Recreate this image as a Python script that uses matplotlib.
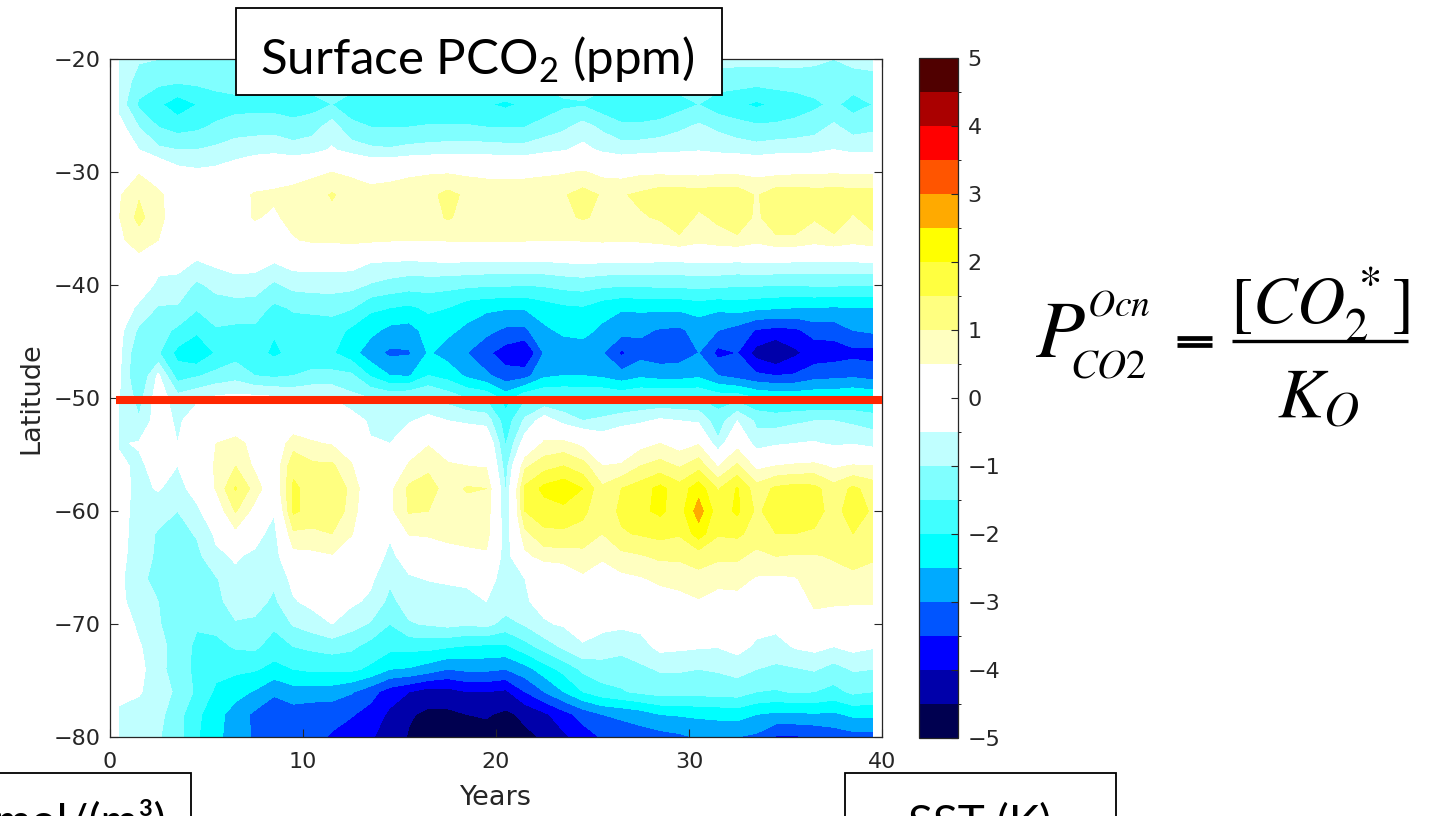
import numpy as np
import matplotlib
matplotlib.use("Agg")
import matplotlib.pyplot as plt
from matplotlib.colors import ListedColormap, BoundaryNorm
from matplotlib.patches import Rectangle
from matplotlib.lines import Line2D

# ---------------- data ----------------
years = np.arange(0.5, 40.0, 1.0)          # grid columns (year centres)
latitudes = np.arange(-80, -19, 2)         # grid rows, south -> north

# surface pCO2 anomaly (ppm) at each latitude row, years 0.5 ... 39.5
lat_m20 = [-0.6,-0.95,-1.0,-1.05,-1.05,-1.0,-1.0,-0.95,-0.95,-0.95, -0.95,-0.9,-0.95,-1.0,-1.05,-1.05,-1.05,-1.05,-1.05,-1.0,
           -1.0,-1.0,-0.95,-0.9,-0.9,-0.95,-0.95,-0.95,-0.95,-0.9, -0.85,-0.85,-0.85,-0.85,-0.85,-0.85,-0.9,-1.0,-0.85,-0.8]
lat_m22 = [-0.7,-1.2,-1.4,-1.45,-1.4,-1.3,-1.25,-1.25,-1.25,-1.25, -1.25,-1.2,-1.3,-1.35,-1.4,-1.4,-1.4,-1.4,-1.4,-1.4,
           -1.45,-1.4,-1.35,-1.25,-1.25,-1.3,-1.35,-1.35,-1.35,-1.25, -1.2,-1.25,-1.3,-1.35,-1.3,-1.25,-1.25,-1.3,-1.25,-1.2]
lat_m24 = [-0.7,-1.6,-1.9,-2.3,-2.0,-1.8,-1.7,-1.7,-1.7,-1.8, -1.7,-1.5,-1.7,-1.8,-1.9,-1.9,-1.9,-1.9,-1.9,-1.95,
           -2.1,-1.9,-1.8,-1.6,-1.55,-1.8,-1.9,-1.9,-1.9,-1.7, -1.5,-1.8,-1.9,-2.1,-1.9,-1.8,-1.6,-1.4,-1.7,-1.5]
lat_m26 = [-0.3,-1.0,-1.5,-1.7,-1.6,-1.4,-1.25,-1.2,-1.2,-1.3, -1.2,-0.75,-1.4,-1.5,-1.5,-1.5,-1.45,-1.45,-1.45,-1.5,
           -1.5,-1.5,-1.3,-1.1,-0.8,-1.1,-1.4,-1.4,-1.3,-1.1, -0.9,-1.1,-1.3,-1.4,-1.4,-1.3,-1.2,-0.9,-1.2,-1.1]
lat_m28 = [0.0,-0.5,-0.9,-1.0,-1.0,-0.9,-0.75,-0.7,-0.65,-0.8, -0.7,-0.45,-0.7,-0.9,-0.95,-0.85,-0.8,-0.75,-0.75,-0.75,
           -0.8,-0.8,-0.65,-0.55,-0.35,-0.6,-0.75,-0.7,-0.65,-0.6, -0.55,-0.65,-0.7,-0.8,-0.7,-0.7,-0.65,-0.5,-0.65,-0.65]
lat_m30 = [0.0,0.45,0.2,-0.3,-0.4,-0.35,-0.2,0.1,0.2,0.3, 0.4,0.5,0.4,0.25,0.3,0.4,0.45,0.45,0.4,0.35,
           0.35,0.35,0.4,0.45,0.55,0.35,0.3,0.4,0.4,0.35, 0.35,0.4,0.4,0.35,0.35,0.4,0.4,0.45,0.4,0.4]
lat_m32 = [0.45,0.95,0.6,0.2,0.1,0.1,0.3,0.55,0.6,0.65, 0.75,1.05,0.8,0.7,0.75,0.8,0.85,1.15,0.9,0.85,
           0.85,0.85,0.9,0.95,1.2,0.95,0.95,1.1,1.3,1.3, 1.25,1.3,1.3,0.95,1.3,1.3,1.25,1.25,1.25,1.25]
lat_m34 = [0.5,1.15,0.65,0.2,0.0,0.0,0.2,0.55,0.4,0.7, 0.8,0.85,0.85,0.8,0.8,0.8,0.8,1.05,0.85,0.8,
           0.8,0.85,0.85,0.9,1.05,0.9,0.9,0.95,1.05,1.3, 0.9,1.1,1.3,0.9,1.3,1.3,1.05,1.25,0.95,1.2]
lat_m36 = [0.4,0.75,0.5,0.1,-0.1,-0.1,0.0,0.2,0.35,0.45, 0.6,0.6,0.65,0.6,0.55,0.5,0.5,0.55,0.6,0.6,
           0.6,0.55,0.5,0.5,0.55,0.6,0.55,0.6,0.7,0.9, 0.65,0.8,0.9,0.65,0.9,0.9,0.7,0.9,0.7,0.85]
lat_m38 = [-0.1,0.3,-0.35,-0.3,-0.55,-0.4,-0.3,-0.3,-0.5,-0.3, -0.3,-0.3,-0.3,-0.5,-0.55,-0.6,-0.55,-0.5,-0.55,-0.55,
           -0.55,-0.55,-0.55,-0.5,-0.45,-0.5,-0.5,-0.5,-0.55,-0.55, -0.5,-0.5,-0.55,-0.5,-0.5,-0.55,-0.55,-0.6,-0.55,-0.5]
lat_m40 = [-0.1,-0.2,-0.6,-0.7,-1.1,-0.85,-0.7,-0.75,-1.1,-0.85, -0.8,-0.8,-0.85,-1.05,-1.2,-1.3,-1.3,-1.35,-1.4,-1.45,
           -1.45,-1.5,-1.45,-1.35,-1.3,-1.4,-1.45,-1.45,-1.4,-1.4, -1.35,-1.4,-1.45,-1.45,-1.5,-1.5,-1.45,-1.45,-1.5,-1.5]
lat_m42 = [-0.2,-0.6,-1.05,-1.05,-1.45,-1.25,-1.25,-1.25,-1.6,-1.45, -1.4,-1.35,-1.45,-1.9,-2.0,-2.1,-1.9,-2.0,-2.3,-2.4,
           -2.45,-2.45,-2.25,-2.1,-2.05,-2.3,-2.45,-2.4,-2.4,-2.4, -2.3,-2.4,-2.3,-2.4,-2.45,-2.5,-2.5,-2.55,-2.5,-2.5]
lat_m44 = [-0.35,-1.1,-1.3,-1.6,-1.9,-1.55,-1.6,-1.6,-1.95,-1.7, -1.75,-1.75,-2.1,-2.35,-2.65,-2.7,-2.3,-2.4,-2.6,-2.85,
           -3.1,-3.1,-2.6,-2.4,-2.35,-2.6,-2.8,-2.9,-3.05,-3.1, -2.8,-3.0,-3.2,-3.55,-3.65,-3.6,-3.3,-3.3,-3.0,-2.9]
lat_m46 = [-0.4,-1.45,-1.45,-2.15,-2.45,-1.95,-1.7,-1.8,-2.1,-1.85, -1.9,-1.95,-2.3,-2.8,-3.1,-3.05,-2.45,-2.7,-3.0,-3.4,
           -3.75,-4.05,-2.95,-2.8,-2.75,-2.95,-3.6,-3.2,-3.3,-3.25, -3.0,-3.65,-3.5,-4.2,-4.55,-4.1,-3.8,-3.75,-3.65,-3.7]
lat_m48 = [-0.45,-1.55,-0.4,-1.75,-1.55,-1.35,-1.2,-1.5,-1.6,-1.5, -1.35,-1.35,-1.4,-2.05,-2.5,-2.55,-2.0,-2.2,-2.6,-2.9,
           -3.3,-3.2,-2.6,-2.5,-2.5,-2.6,-2.8,-2.6,-2.7,-2.7, -2.6,-3.0,-3.2,-3.4,-3.5,-3.45,-3.2,-3.15,-3.1,-3.2]
lat_m50 = [-0.5,-1.2,-0.2,-0.8,-0.6,-0.4,-0.35,-0.35,-0.4,-0.55, -0.5,-0.5,-0.85,-1.0,-1.1,-1.0,-0.9,-1.2,-1.5,-1.6,
           -2.2,-1.6,-1.5,-1.5,-1.55,-1.5,-1.6,-1.5,-1.5,-1.5, -1.5,-1.7,-1.7,-2.0,-2.1,-2.1,-2.1,-2.1,-2.0,-2.1]
lat_m52 = [-0.6,-0.95,-0.2,-0.6,-0.2,-0.1,0.0,-0.1,-0.1,0.0, 0.1,0.0,-0.2,-0.6,-0.75,-0.55,-0.35,-0.5,-0.6,-0.7,
           -1.8,-0.9,-0.2,-0.7,-1.0,-0.9,-0.7,-0.6,-0.4,-0.5, -0.6,-1.3,-0.5,-1.1,-1.2,-1.1,-1.0,-1.0,-1.1,-1.2]
lat_m54 = [-0.55,-0.45,-0.3,-0.5,0.0,0.5,0.7,0.3,0.0,0.8, 0.55,0.45,0.2,-0.45,-0.5,0.0,0.45,0.25,0.1,0.1,
           -1.55,-0.2,0.6,0.65,0.35,-0.1,0.1,0.3,0.5,0.25, 0.45,-0.9,0.3,-0.8,-0.6,-0.5,-0.45,-0.6,-0.55,-0.7]
lat_m56 = [-0.4,-0.6,-0.3,-0.5,0.2,0.55,1.0,0.4,0.1,1.35, 1.1,1.1,0.55,-0.1,-0.2,0.6,0.9,0.55,0.5,0.45,
           -1.25,0.9,1.3,1.5,1.2,0.5,0.55,1.0,1.2,0.95, 1.3,0.45,1.1,0.35,0.5,0.6,0.65,0.4,0.55,0.5]
lat_m58 = [-0.3,-0.65,-0.45,-0.75,-0.2,0.55,1.55,0.8,0.0,1.6, 1.3,1.5,0.85,0.0,0.35,1.1,1.2,0.8,1.05,1.0,
           -1.05,1.6,2.15,2.35,2.0,1.1,1.5,1.75,2.15,1.7, 2.3,1.45,2.05,1.2,1.6,1.7,1.65,1.2,1.6,1.3]
lat_m60 = [-0.3,-0.7,-0.8,-1.0,-0.65,0.1,1.05,0.3,-0.45,1.6, 1.3,1.45,0.75,-0.05,0.35,1.05,1.0,0.8,0.8,0.85,
           -0.95,1.5,1.75,1.85,1.6,1.2,1.6,1.9,2.1,1.75, 2.75,1.7,2.1,1.4,1.75,1.8,1.65,1.35,1.7,1.45]
lat_m62 = [-0.3,-0.75,-1.05,-1.2,-0.95,-0.4,0.35,-0.3,-0.7,0.9, 0.9,1.0,0.55,-0.2,-0.45,0.55,0.6,0.7,0.7,0.75,
           -0.85,0.85,1.4,1.4,1.35,1.0,1.45,1.55,1.65,1.55, 2.25,1.55,1.6,1.3,1.5,1.5,1.45,1.35,1.5,1.35]
lat_m64 = [-0.35,-0.75,-1.1,-1.3,-1.15,-0.6,-0.45,-0.6,-0.8,0.3, 0.35,0.45,0.05,-0.25,-0.6,-0.3,-0.1,0.2,0.35,0.4,
           -0.8,0.35,0.7,0.75,0.8,0.55,0.85,0.95,1.1,1.1, 1.2,1.1,1.1,0.85,1.0,0.95,0.95,1.05,1.15,1.05]
lat_m66 = [-0.4,-0.85,-1.2,-1.3,-1.2,-1.05,-0.6,-0.7,-0.9,-0.35, -0.2,-0.1,-0.2,-0.4,-0.9,-0.55,-0.48,-0.45,-0.42,-0.3,
           -0.7,-0.5,-0.2,-0.05,0.4,0.3,0.35,0.45,0.6,0.65, 0.85,0.65,0.65,0.45,0.4,0.45,0.8,0.8,0.9,0.85]
lat_m68 = [-0.35,-0.8,-1.0,-1.3,-1.3,-1.15,-0.75,-0.8,-1.1,-0.55, -0.35,-0.25,-0.4,-0.6,-1.15,-0.75,-0.7,-0.65,-0.62,-0.5,
           -0.7,-0.55,-0.35,-0.25,-0.15,-0.2,-0.2,0.2,0.25,0.35, 0.45,0.3,0.35,0.1,0.1,0.15,0.6,0.55,0.55,0.55]
lat_m70 = [-0.2,-0.6,-0.95,-1.3,-1.45,-1.35,-1.05,-1.1,-1.4,-0.95, -0.75,-0.5,-0.8,-1.05,-1.5,-1.05,-0.95,-0.85,-0.95,-0.85,
           -1.2,-0.95,-0.55,-0.45,-0.3,-0.35,-0.4,-0.35,-0.2,-0.2, -0.2,-0.2,-0.15,-0.3,-0.35,-0.2,0.3,0.3,0.2,0.2]
lat_m72 = [-0.2,-0.45,-0.8,-1.25,-1.6,-1.65,-1.45,-1.4,-1.75,-1.5, -1.4,-1.3,-1.4,-1.7,-1.85,-1.85,-1.85,-1.95,-2.05,-2.1,
           -2.1,-1.7,-1.3,-0.9,-0.55,-0.75,-0.85,-0.7,-0.35,-0.4, -0.45,-0.48,-0.3,-0.6,-0.7,-0.45,-0.35,-0.5,-0.35,-0.45]
lat_m74 = [-0.2,-0.35,-0.8,-1.3,-1.6,-1.85,-1.9,-1.95,-2.15,-2.0, -1.9,-1.9,-1.9,-2.1,-2.5,-2.55,-2.75,-3.0,-2.9,-2.9,
           -3.0,-2.7,-2.25,-1.85,-1.4,-1.2,-1.25,-1.1,-0.95,-0.95, -1.0,-0.95,-0.85,-1.0,-1.1,-1.05,-0.95,-1.2,-0.95,-1.0]
lat_m76 = [-0.35,-0.45,-0.75,-1.1,-1.6,-2.1,-2.3,-2.55,-2.95,-2.7, -2.75,-2.75,-2.95,-3.3,-3.75,-4.0,-4.25,-4.2,-4.0,-4.0,
           -4.1,-3.5,-3.0,-2.5,-2.0,-1.7,-1.55,-1.4,-1.3,-1.3, -1.3,-1.3,-1.25,-1.5,-1.55,-1.45,-1.5,-1.65,-1.4,-1.5]
lat_m78 = [-0.6,-0.7,-0.85,-1.3,-1.9,-2.3,-2.75,-3.1,-3.2,-3.25, -3.3,-3.35,-3.45,-3.7,-4.1,-4.45,-4.6,-4.6,-4.5,-4.45,
           -4.6,-4.4,-4.1,-3.7,-3.3,-3.0,-2.9,-2.75,-2.5,-2.45, -2.4,-2.35,-2.3,-2.5,-2.6,-2.6,-2.55,-2.6,-2.4,-2.4]
lat_m80 = [-0.7,-0.8,-0.95,-1.3,-1.95,-2.35,-2.8,-3.05,-3.15,-3.25, -3.35,-3.55,-3.8,-3.95,-4.2,-4.55,-4.7,-4.8,-4.75,-4.7,
           -4.65,-4.6,-4.45,-4.1,-3.75,-3.45,-3.3,-3.25,-3.2,-3.1, -2.95,-2.95,-3.0,-3.1,-3.55,-3.55,-3.5,-3.3,-3.2,-3.2]

rows_south_to_north = [lat_m80, lat_m78, lat_m76, lat_m74, lat_m72, lat_m70, lat_m68, lat_m66,
                       lat_m64, lat_m62, lat_m60, lat_m58, lat_m56, lat_m54, lat_m52, lat_m50,
                       lat_m48, lat_m46, lat_m44, lat_m42, lat_m40, lat_m38, lat_m36, lat_m34,
                       lat_m32, lat_m30, lat_m28, lat_m26, lat_m24, lat_m22, lat_m20]
field = np.array(rows_south_to_north, dtype=float)

levels = np.arange(-5.0, 5.01, 0.5)
band_colors = ['#000050', '#0000AA', '#0000FF', '#0055FF', '#00AAFF',
               '#00FFFF', '#40FFFF', '#80FFFF', '#C0FFFF', '#FFFFFF',
               '#FFFFFF', '#FFFFC0', '#FFFF80', '#FFFF40', '#FFFF00',
               '#FFAA00', '#FF5500', '#FF0000', '#AA0000', '#500000']
cbar_ticks = list(range(-5, 6))
x_ticks = [0, 10, 20, 30, 40]
y_ticks = [-80, -70, -60, -50, -40, -30, -20]
marker_latitude = -50.2

# ---------------- figure ----------------
W, H = 1434, 816
fig = plt.figure(figsize=(W / 100, H / 100), dpi=100)
fig.patch.set_facecolor('white')

def fx(px):
    return px / W

def fy(py):
    return 1 - py / H

dark = '#262626'
tick_font = ['DejaVu Sans']
box_font = ['Lato', 'DejaVu Sans']

ax = fig.add_axes([fx(110), fy(737), fx(882) - fx(110), fy(59.3) - fy(737)])
cmap = ListedColormap(band_colors)
norm = BoundaryNorm(levels, cmap.N)
cf = ax.contourf(years, latitudes, field, levels=levels, cmap=cmap, norm=norm)

ax.set_xlim(0, 40)
ax.set_ylim(-80, -20)
ax.set_xticks(x_ticks)
ax.set_yticks(y_ticks)
ax.tick_params(direction='in', length=6, width=0.8, top=True, right=True,
               labelsize=16, colors=dark, labelcolor=dark)
ax.tick_params(axis='x', pad=11)
ax.tick_params(axis='y', pad=7)
for sp in ax.spines.values():
    sp.set_color(dark)
    sp.set_linewidth(0.9)
ax.set_xlabel('Years', fontsize=19.5, color=dark, labelpad=9, family=tick_font)
ax.set_ylabel('Latitude', fontsize=19.5, color=dark, labelpad=6, family=tick_font)

ax.plot([0.3, 40.0], [marker_latitude, marker_latitude], color='#FF2600',
        lw=5.8, solid_capstyle='butt', clip_on=False, zorder=5)

# colorbar
cax = fig.add_axes([fx(919), fy(738), fx(958) - fx(919), fy(58) - fy(738)])
cb = fig.colorbar(cf, cax=cax, ticks=cbar_ticks)
cb.outline.set_edgecolor(dark)
cb.outline.set_linewidth(0.9)
cax.tick_params(direction='in', length=5, width=0.8, labelsize=16,
                colors=dark, labelcolor=dark, pad=7)

# title box
fig.patches.append(Rectangle((fx(236), fy(95)), fx(722) - fx(236), fy(8) - fy(95),
                             transform=fig.transFigure, facecolor='white',
                             edgecolor='black', linewidth=1.3, zorder=10))
plt.rcParams['mathtext.fontset'] = 'custom'
plt.rcParams['mathtext.rm'] = 'Lato'
fig.text(fx(477.5), fy(75), r'Surface PCO$_2$ (ppm)', fontsize=35.5,
         family=box_font, ha='center', va='baseline', zorder=11)

# cut-off boxes at the bottom
fig.patches.append(Rectangle((fx(-10), fy(830)), fx(191) - fx(-10), fy(773) - fy(830),
                             transform=fig.transFigure, facecolor='white',
                             edgecolor='black', linewidth=1.3, zorder=10))
fig.text(fx(-6), fy(836), 'mol/(m\u00b3)', fontsize=33, family=box_font,
         ha='left', va='baseline', zorder=11)
fig.patches.append(Rectangle((fx(845), fy(830)), fx(1116) - fx(845), fy(773) - fy(830),
                             transform=fig.transFigure, facecolor='white',
                             edgecolor='black', linewidth=1.3, zorder=10))
fig.text(fx(980), fy(838), 'SST (K)', fontsize=33, family=box_font,
         ha='center', va='baseline', zorder=11)

# equation  P^{Ocn}_{CO2} = [CO2*] / K_O
eq = dict(math_fontfamily='stix', va='baseline', color='black')
fig.text(fx(1035), fy(357), r'$P$', fontsize=58, ha='left', **eq)
fig.text(fx(1087), fy(316), r'$Ocn$', fontsize=27, ha='left', **eq)
fig.text(fx(1070), fy(377), r'$CO2$', fontsize=29, ha='left', **eq)
for ybar in (337.5, 345.5):
    fig.add_artist(Line2D([fx(1177), fx(1212)], [fy(ybar), fy(ybar)],
                          transform=fig.transFigure, color='black', lw=3.4,
                          solid_capstyle='butt'))
fig.add_artist(Line2D([fx(1232), fx(1408)], [fy(341.5), fy(341.5)],
                      transform=fig.transFigure, color='black', lw=2.4,
                      solid_capstyle='butt'))
fig.text(fx(1320), fy(324), r'$[CO_2^*]$', fontsize=48, ha='center', **eq)
fig.text(fx(1318), fy(417), r'$K_O$', fontsize=50, ha='center', **eq)

fig.savefig('out.png', dpi=100)
